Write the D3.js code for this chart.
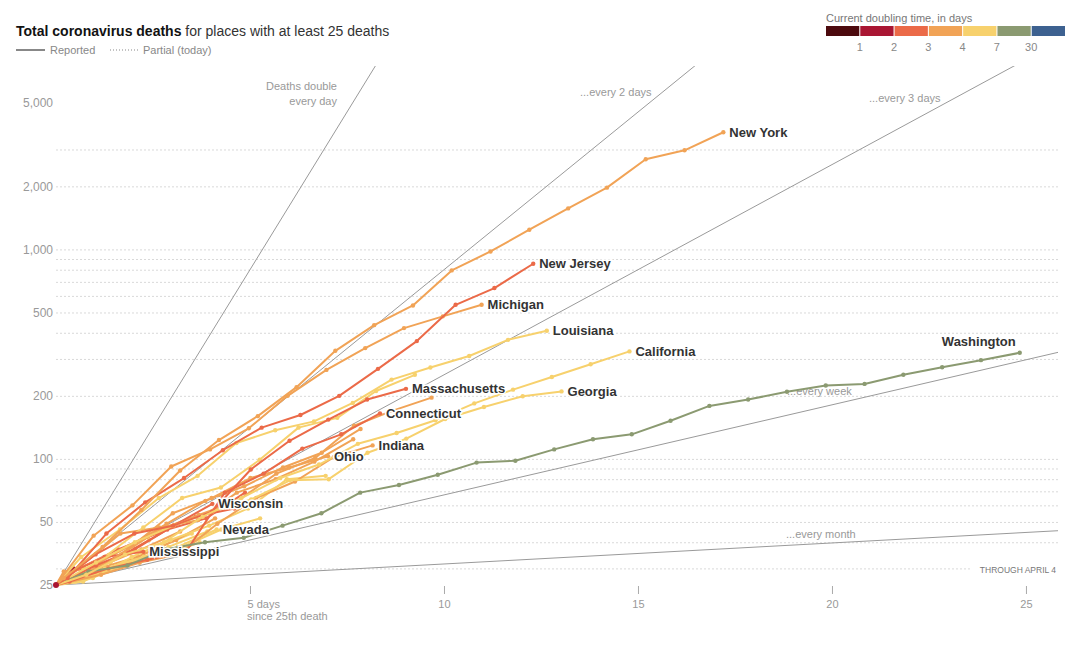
<!DOCTYPE html>
<html><head><meta charset="utf-8">
<script src="https://cdn.jsdelivr.net/npm/d3@7"></script>
<style>
body{margin:0;background:#fff;}
svg{display:block;font-family:"Liberation Sans",Arial,sans-serif;}
</style></head><body>
<svg id="chart" width="1085" height="646"></svg>
<script>
// ---------- DATA ----------
const gridValues = [30,40,50,60,70,80,90,100,200,300,400,500,600,700,800,900,1000,2000,3000];
const yTickLabels = [25,50,100,200,500,1000,2000,5000];
const xTickValues = [5,10,15,20,25];
const doublingPeriods = [1,2,3,7,30];
const doublingLabels = ["Deaths double|every day","...every 2 days","...every 3 days","...every week","...every month"];
const legendBreaks = ["1","2","3","4","7","30"];
const legendColors = ["#4c0a0e","#a91633","#eb6a48","#f1a356","#f7d16d","#8b9a71","#3d6190"];
const legendThresholds = [1,2,3,4,7,30];

// each place: name, day of first point after the 25th death, counts on following days, current doubling time
const seriesNames     = ["Kentucky","Tennessee","Arizona","South Carolina","Alabama","Virginia","Missouri","Oklahoma","Maryland","Texas","Colorado","Pennsylvania","Florida","Illinois","Unlabeled",
                         "Mississippi","Nevada","Wisconsin","Ohio","Indiana","Georgia","Connecticut","Massachusetts","Washington","California","Louisiana","Michigan","New Jersey","New York"];
const seriesLabeled   = [0,0,0,0,0,0,0,0,0,0,0,0,0,0,0, 1,1,1,1,1,1,1,1,1,1,1,1,1,1];
const seriesFirstDay  = [0.2,0.5,0.4,0.7,0.9,1.1,0.6,0.26,0.87,0.95,0.66,0.85,0.68,0.25,0.45,
                         0.25,1.14,1.03,1.01,1.16,1.03,0.35,1.02,0.84,0.78,0.65,0.97,0.3,0.2];
const seriesDoubling  = [3.5,5,5,5,5,3.5,2.8,5,2.8,5,3.5,3.5,3.5,4.5,1.5,
                         2.8,5,2.8,3.5,3.5,5,2.8,2.8,10,5,4.5,3.5,2.5,3.5];
const kentucky      = [29,31,37,45];
const tennessee     = [26,30,37,44];
const arizona       = [29,32,41];
const southCarolina = [26,31,34,40];
const alabama       = [28,32,38,45];
const virginia      = [30,34,41,52];
const missouri      = [30,37,44,53,58];
const oklahoma      = [27,30,34,38,46,52];
const maryland      = [29,36,46,52,69];
const texas         = [27,34,41,48,58,80,83];
const colorado      = [31,44,47,51,69,80,97,124];
const pennsylvania  = [30,38,49,63,74,91,107,139];
const florida       = [28,35,46,54,63,85,101,144,170,196];
const illinois      = [28,34,47,65,73,99,141,157,211,252];
const unlabeled     = [30];
const mississippi   = [28,34,36];
const nevada        = [29,32,38,46];
const wisconsin     = [31,37,48,61];
const ohio          = [29,39,55,65,81,91,103];
const indiana       = [28,32,35,49,65,78,102,116];
const georgia       = [32,40,48,56,64,79,80,107,125,155,177,199,210];
const connecticut   = [26,30,33,36,69,85,112,131,165];
const massachusetts = [35,44,48,56,89,122,154,192,216];
const washington    = [29,31,37,40,42,48,55,69,75,84,96,98,111,124,131,152,179,192,209,224,228,252,274,296,321];
const california    = [28,35,40,53,65,81,94,118,133,153,184,214,246,283,326];
const louisiana     = [34,46,65,83,119,137,151,185,239,273,310,370,409];
const michigan      = [43,60,92,111,140,200,266,338,421,479,544];
const newJersey     = [27,44,62,81,110,141,162,200,269,365,544,654,854];
const newYork       = [27,38,57,88,123,160,220,328,435,540,794,978,1242,1570,1972,2693,2973,3625];
const seriesValues = [kentucky,tennessee,arizona,southCarolina,alabama,virginia,missouri,oklahoma,maryland,texas,colorado,pennsylvania,florida,illinois,unlabeled,
                      mississippi,nevada,wisconsin,ohio,indiana,georgia,connecticut,massachusetts,washington,california,louisiana,michigan,newJersey,newYork];

// ---------- CHART ----------
const svg = d3.select("#chart");
const x = d3.scaleLinear().domain([0,25.8]).range([56,1057]);
const y = d3.scaleLog().domain([25,5000]).range([585,103]);
const color = d3.scaleThreshold().domain(legendThresholds).range(legendColors);

const series = seriesNames.map((name,i)=>({
  name, labeled: seriesLabeled[i], color: color(seriesDoubling[i]),
  points: [{d:0,v:25}].concat(seriesValues[i].map((v,k)=>({d:seriesFirstDay[i]+k, v})))
}));

svg.append("defs").append("clipPath").attr("id","plot")
  .append("rect").attr("x",56).attr("y",66).attr("width",1002).attr("height",540);

// gridlines
const grid = svg.append("g").attr("transform","translate(56,0)")
  .call(d3.axisRight(y).tickValues(gridValues).tickSize(1002).tickFormat(""));
grid.select(".domain").remove();
grid.selectAll("line").attr("stroke","#d9d9d9").attr("stroke-dasharray","2,2");

// y labels
const yax = svg.append("g").attr("transform","translate(55,0)")
  .call(d3.axisLeft(y).tickValues(yTickLabels).tickFormat(d3.format(",")).tickSize(0).tickPadding(2));
yax.select(".domain").remove();
yax.selectAll("text").attr("fill","#999").attr("font-size","12px").attr("font-family","Liberation Sans, Arial, sans-serif");

// x axis
const xax = svg.append("g").attr("transform","translate(0,586)")
  .call(d3.axisBottom(x).tickValues(xTickValues).tickSize(8).tickPadding(6).tickFormat(d=>d===5?"5 days":d));
xax.select(".domain").remove();
xax.selectAll("line").attr("stroke","#aaa");
xax.selectAll("text").attr("fill","#999").attr("font-size","11px").attr("font-family","Liberation Sans Narrow, Liberation Sans, Arial, sans-serif");
xax.selectAll("text").filter(d=>d===5).attr("text-anchor","start").attr("x",-3);
svg.append("text").attr("x",247).attr("y",620).attr("fill","#999").attr("font-size","11px")
  .attr("font-family","Liberation Sans Narrow, Liberation Sans, Arial, sans-serif").text("since 25th death");

// reference lines
const refG = svg.append("g").attr("clip-path","url(#plot)");
refG.selectAll("line").data(doublingPeriods).join("line")
  .attr("x1",x(0)).attr("y1",y(25))
  .attr("x2",x(27)).attr("y2",p=>y(25*Math.pow(2,27/p)))
  .attr("stroke","#9a9a9a").attr("stroke-width",1);

// reference labels
const refLab = svg.append("g").attr("fill","#999").attr("font-size","11px");
refLab.append("text").attr("x",337).attr("y",90).attr("text-anchor","end").text(doublingLabels[0].split("|")[0]);
refLab.append("text").attr("x",337).attr("y",105).attr("text-anchor","end").text(doublingLabels[0].split("|")[1]);
refLab.append("text").attr("x",580).attr("y",96).text(doublingLabels[1]);
refLab.append("text").attr("x",869).attr("y",102).text(doublingLabels[2]);
refLab.append("text").attr("x",787).attr("y",395).text(doublingLabels[3]);
refLab.append("text").attr("x",786).attr("y",538).text(doublingLabels[4]);
svg.append("rect").attr("x",972).attr("y",564).attr("width",86).attr("height",11).attr("fill","#fff");
svg.append("text").attr("x",1056).attr("y",573).attr("text-anchor","end").attr("fill","#777")
  .attr("font-size","8.5px").text("THROUGH APRIL 4");

// series
const line = d3.line().x(p=>x(p.d)).y(p=>y(p.v));
const sg = svg.append("g");
series.forEach(s=>{
  const g = sg.append("g");
  g.append("path").attr("d",line(s.points)).attr("fill","none").attr("stroke",s.color)
    .attr("stroke-width",2).attr("stroke-linejoin","round");
  g.selectAll("circle").data(s.points.slice(1)).join("circle")
    .attr("cx",p=>x(p.d)).attr("cy",p=>y(p.v)).attr("r",2.2).attr("fill",s.color);
});
svg.append("circle").attr("cx",x(0)).attr("cy",y(25)).attr("r",3).attr("fill","#a91633");

// labels
const lab = svg.append("g").attr("font-size","13px").attr("font-weight","bold").attr("fill","#333");
series.filter(s=>s.labeled).forEach(s=>{
  const last = s.points[s.points.length-1];
  const isWA = s.name==="Washington";
  lab.append("text")
    .attr("x", x(last.d) + (isWA ? -4 : 6))
    .attr("y", y(last.v) + (isWA ? -7 : 4.5))
    .attr("text-anchor", isWA ? "end" : "start")
    .attr("stroke","#fff").attr("stroke-width",3).attr("paint-order","stroke")
    .text(s.name);
});

// title & legends
const t = svg.append("text").attr("x",16).attr("y",36).attr("font-size","14px").attr("fill","#121212");
t.append("tspan").attr("font-weight","bold").text("Total coronavirus deaths");
t.append("tspan").attr("fill","#333").text(" for places with at least 25 deaths");

svg.append("line").attr("x1",16).attr("x2",45).attr("y1",50).attr("y2",50).attr("stroke","#888").attr("stroke-width",2);
svg.append("text").attr("x",50).attr("y",54).attr("font-size","11px").attr("fill","#888").text("Reported");
svg.append("line").attr("x1",110).attr("x2",138).attr("y1",50).attr("y2",50).attr("stroke","#888").attr("stroke-width",1.2).attr("stroke-dasharray","1,2");
svg.append("text").attr("x",143).attr("y",54).attr("font-size","11px").attr("fill","#888").text("Partial (today)");

const lg = svg.append("g");
lg.append("text").attr("x",826).attr("y",22).attr("font-size","11px").attr("fill","#777").text("Current doubling time, in days");
const bx = d3.scaleBand().domain(d3.range(legendColors.length)).range([826,1065]).paddingInner(0.03);
lg.selectAll("rect").data(legendColors).join("rect")
  .attr("x",(c,i)=>bx(i)).attr("y",26).attr("width",bx.bandwidth()).attr("height",10).attr("fill",c=>c);
lg.selectAll("text.b").data(legendBreaks).join("text").attr("class","b")
  .attr("x",(b,i)=>bx(i+1)-bx.step()*0.015).attr("y",51).attr("text-anchor","middle")
  .attr("font-size","11px").attr("fill","#888").text(b=>b);
</script></body></html>
